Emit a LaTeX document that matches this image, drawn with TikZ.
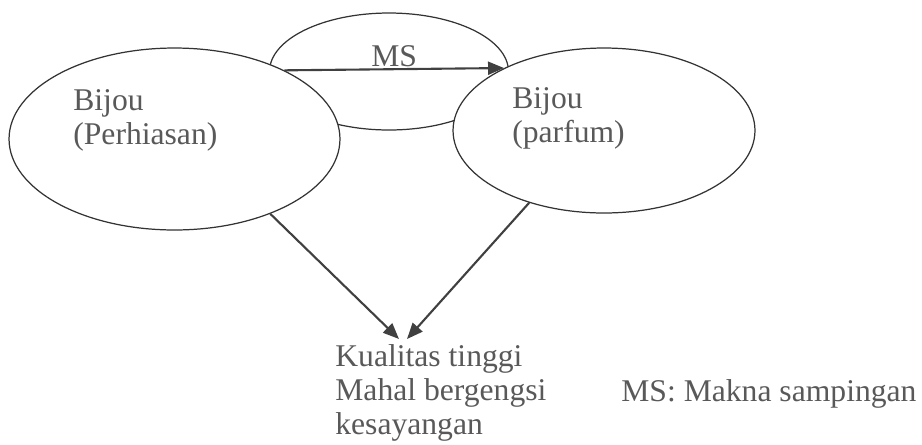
\documentclass[tikz,border=0pt]{standalone}
\usepackage{fontspec}
\setmainfont{Liberation Serif}
\usetikzlibrary{arrows.meta,shapes.geometric,positioning}

\begin{document}
\begin{tikzpicture}[
        x=0.02cm,y=-0.02cm,
        makna/.style={
          draw=black!80,ellipse,
          line width=0.7pt,
          inner sep=0pt
        },
        isi/.style={
          fill=white
        },
        teks/.style={
          text=black!65,align=left,
          inner sep=0pt,anchor=base west,
          font=\fontsize{18}{19.1}\selectfont
        },
        panah/.style={
          draw=black!75,line width=1.2pt,
          -{Triangle[length=0.32cm,width=0.26cm]}
        },
      ]
      \useasboundingbox (0,0) rectangle (922,444);
      \node[makna,minimum width=4.78cm,minimum height=2.34cm] (sampingan) at (389,71.5) {};
      \node[makna,isi,minimum width=6.62cm,minimum height=3.64cm] (perhiasan) at (174.5,139) {};
      \node[makna,isi,minimum width=6.04cm,minimum height=3.3cm] (parfum) at (604,130.5) {};

      \node[teks] (tperhiasan) at (73,144) {Bijou\\(Perhiasan)};
      \node[teks] (tparfum) at (512,142) {Bijou\\(parfum)};
      \node[teks] (kualitas) at (335,434) {Kualitas tinggi\\Mahal bergengsi\\kesayangan};
      \node[teks] (ket) at (621,401) {MS: Makna sampingan};

      \coordinate (ujungA) at (399,339);
      \coordinate (ujungB) at (407,339);

      \draw[panah] (perhiasan.32) -- node[teks,anchor=base,yshift=1.5pt] (ms) {MS} (parfum.148);
      \draw[panah] (perhiasan.-38) -- (ujungA);
      \draw[panah] (parfum.224) -- (ujungB);
    \end{tikzpicture}
\end{document}
